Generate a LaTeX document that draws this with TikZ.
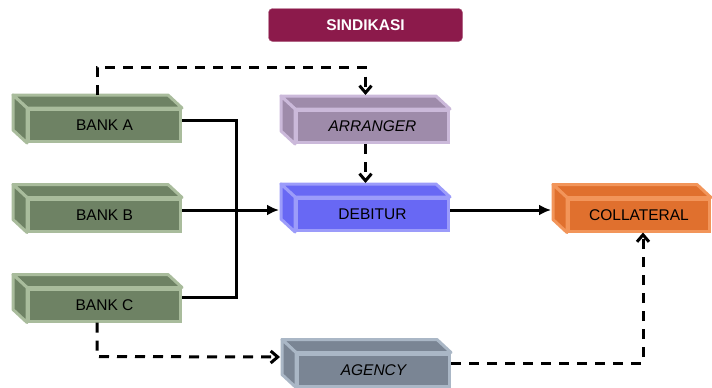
\documentclass[tikz,border=0pt]{standalone}
\usepackage{fontspec}
\setmainfont{Liberation Sans}
\usetikzlibrary{arrows.meta, calc, backgrounds}
\definecolor{bankfill}{HTML}{6E8264}
\definecolor{bankedge}{HTML}{A9BC9C}
\definecolor{arrfill}{HTML}{9E8BAA}
\definecolor{arredge}{HTML}{CBB9DA}
\definecolor{debfill}{HTML}{6868F4}
\definecolor{debedge}{HTML}{9C9CFA}
\definecolor{colfill}{HTML}{E0702E}
\definecolor{coledge}{HTML}{F2955A}
\definecolor{agefill}{HTML}{7A8594}
\definecolor{ageedge}{HTML}{AAB7C6}
\definecolor{sindfill}{HTML}{8C1A4B}
\tikzset{
  face/.style={
    rectangle,
    line width=3pt,
    align=center,
    minimum width=152pt,
    minimum height=32pt,
    inner sep=0pt,
    font=\fontsize{15.5}{18}\selectfont
  },
  title/.style={
    rectangle,
    rounded corners=4pt,
    fill=sindfill,
    draw=sindfill!70!white,
    text=white,
    minimum width=194pt,
    minimum height=33pt,
    font=\fontsize{15.5}{18}\selectfont\bfseries
  },
  arrow/.style={-{Latex[length=12pt,width=11pt]}, line width=3pt},
  dataarrow/.style={-{Straight Barb[length=7pt,width=12pt,line width=3pt]}, line width=3pt, dash pattern=on 10pt off 8pt}
}
% top and left side of a box
\newcommand{\sides}[3]{
  \begin{scope}[on background layer]
  \filldraw[fill=#2, draw=#3, line width=3pt, line join=round]
    (#1.north west) -- (#1.north east) -- ++(-14,-13) -- ($(#1.north west)+(-14,-13)$) -- cycle;
  \filldraw[fill=#2, draw=#3, line width=3pt, line join=round]
    (#1.north west) -- (#1.south west) -- ++(-14,-13) -- ($(#1.north west)+(-14,-13)$) -- cycle;
  \end{scope}
}
\begin{document}
\begin{tikzpicture}[x=1pt,y=-1pt]
\useasboundingbox (0,0) rectangle (712,388);
\node[title] (sind) at (365.5,25) {SINDIKASI};
\node[face, fill=bankfill, draw=bankedge] (banka) at (104.5,125.5) {BANK A};
\node[face, fill=bankfill, draw=bankedge] (bankb) at (104.5,215) {BANK B};
\node[face, fill=bankfill, draw=bankedge] (bankc) at (104.5,305) {BANK C};
\node[face, fill=arrfill, draw=arredge] (arranger) at (372.5,126.5) {\itshape ARRANGER};
\node[face, fill=debfill, draw=debedge] (debitur) at (372.5,214.5) {DEBITUR};
\node[face, fill=colfill, draw=coledge, minimum width=141pt] (collateral) at (639,215) {COLLATERAL};
\node[face, fill=agefill, draw=ageedge] (agency) at (373.5,370) {\itshape AGENCY};
\sides{banka}{bankfill}{bankedge}
\sides{bankb}{bankfill}{bankedge}
\sides{bankc}{bankfill}{bankedge}
\sides{arranger}{arrfill}{arredge}
\sides{debitur}{debfill}{debedge}
\sides{collateral}{colfill}{coledge}
\sides{agency}{agefill}{ageedge}
\coordinate (join) at (236,215);

\draw[line width=3pt] (banka.east |- 0,120) -| (join);
\draw[line width=3pt] (bankc.east |- 0,297) -| (join);
\draw[arrow] (bankb.east |- 0,210) -- ($(debitur.west |- 0,210)+(-16,0)$);
\draw[arrow] (debitur.east |- 0,210) -- ($(collateral.west |- 0,210)+(-16,0)$);
\draw[dataarrow] ($(banka.north west)+(70,-13)$) -- ++(0,-28) -| ($(arranger.north)+(-7,-14)$);
\draw[dataarrow] ($(arranger.south)+(-7,0)$) -- ($(debitur.north)+(-7,-14)$);
\draw[dataarrow] ($(bankc.south west)+(70,0)$) -- ++(0,34) -- ($(agency.west |- 0,357)+(-16,0)$);
\draw[dataarrow] (agency.east |- 0,363) -| (collateral.south -| 643,0);
\end{tikzpicture}
\end{document}
